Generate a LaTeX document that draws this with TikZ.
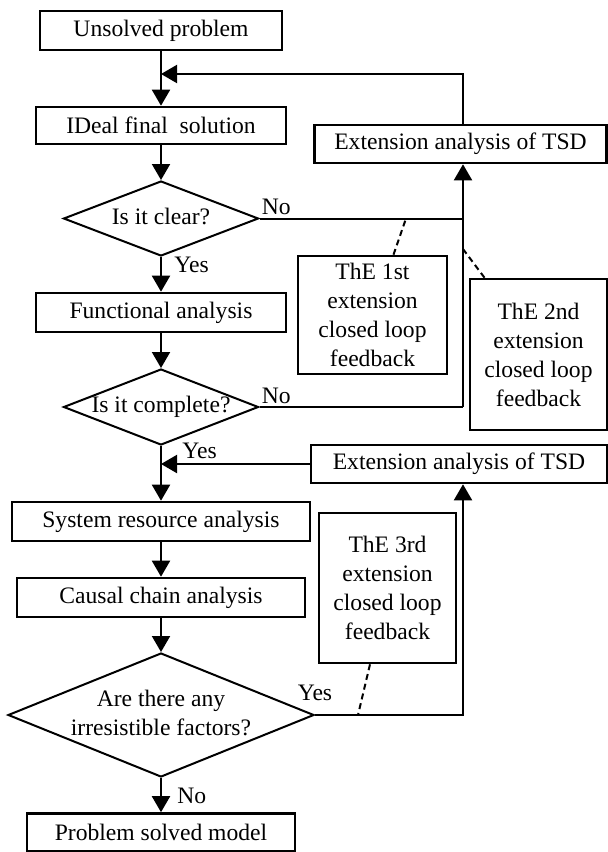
\documentclass[tikz,border=0pt]{standalone}
\usepackage{fontspec}
\setmainfont{Liberation Serif}
\usetikzlibrary{shapes.geometric,arrows.meta}

\newcommand\dtext[1]{\makebox[0pt]{\begin{tabular}{@{}c@{}}#1\end{tabular}}}

\begin{document}
\begin{tikzpicture}[
        x=0.5pt, y=-0.5pt,
        every node/.style={font=\fontsize{11.8}{14.5}\selectfont},
        box/.style={rectangle, draw, line width=1.3pt, inner sep=0pt, align=center},
        decision/.style={diamond, draw, line width=1pt, inner sep=0pt},
        arr/.style={line width=1pt, -{Triangle[length=8pt, width=9pt]}},
        link/.style={line width=1pt},
        note/.style={line width=1pt, dash pattern=on 3pt off 2pt},
        lbl/.style={inner sep=0pt}
      ]
      \useasboundingbox (0,0) rectangle (608,852);

      % main column
      \node[box, minimum width=121pt, minimum height=19.5pt] (b1) at (161,30.5) {Unsolved problem};
      \node[box, minimum width=125pt, minimum height=18.5pt] (b2) at (161,125.5) {IDeal final~ solution};
      \node[decision, minimum width=97.5pt, minimum height=37.5pt] (d1) at (161,218.5) {\dtext{Is it clear?}};
      \node[box, minimum width=125pt, minimum height=19.5pt] (b3) at (161,312.5) {Functional analysis};
      \node[decision, minimum width=97.5pt, minimum height=38pt] (d2) at (161,407) {\dtext{Is it complete?}};
      \node[box, minimum width=149pt, minimum height=19.5pt] (b4) at (161,521.5) {System resource analysis};
      \node[box, minimum width=144pt, minimum height=19.5pt] (b5) at (161,597.5) {Causal chain analysis};
      \node[decision, minimum width=153pt, minimum height=62pt] (d3) at (161,715) {\dtext{Are there any\\irresistible factors?}};
      \node[box, minimum width=134pt, minimum height=19pt] (b6) at (161,832.5) {Problem solved model};

      % feedback side
      \node[box, minimum width=146pt, minimum height=19pt] (e1) at (460.5,144) {Extension analysis of TSD};
      \node[box, minimum width=148pt, minimum height=19pt] (e2) at (459,464) {Extension analysis of TSD};
      \node[box, minimum width=74.5pt, minimum height=59pt] (t1) at (372.5,315) {ThE 1st\\extension\\closed loop\\feedback};
      \node[box, minimum width=68.5pt, minimum height=75.5pt] (t2) at (538.5,354.5) {ThE 2nd\\extension\\closed loop\\feedback};
      \node[box, minimum width=68.5pt, minimum height=75pt] (t3) at (387.5,588) {ThE 3rd\\extension\\closed loop\\feedback};

      \coordinate (lx) at (463,0);
      \coordinate (j1) at (161,74);
      \coordinate (n1) at (406,218.5);
      \coordinate (n2) at (463,249);
      \coordinate (n3) at (358,715);

      % flow
      \draw[arr] (b1) -- (b2);
      \draw[arr] (b2) -- (d1);
      \draw[arr] (d1) -- (b3);
      \draw[arr] (b3) -- (d2);
      \draw[arr] (d2) -- (b4);
      \draw[arr] (b4) -- (b5);
      \draw[arr] (b5) -- (d3);
      \draw[arr] (d3) -- (b6);

      % loops
      \draw[link] (d1.east) -- (d1.east -| lx);
      \draw[link] (d2.east) -- (d2.east -| lx);
      \draw[arr] (d2.east -| lx) -- (e1.south -| lx);
      \draw[arr] (e1.north -| lx) |- (j1);
      \draw[arr] (d3.east) -| (e2.south -| lx);
      \draw[arr] (e2.west) -- (e2.west -| b4);

      \draw[note] ([xshift=10.5pt]t1.north) -- (n1);
      \draw[note] ([xshift=-27pt]t2.north) -- (n2);
      \draw[note] ([xshift=-8.75pt]t3.south) -- (n3);

      % labels
      \node[lbl, anchor=south west] (no1) at ([xshift=1pt, yshift=1.5pt]d1.east) {No};
      \node[lbl, anchor=north west] (yes1) at ([xshift=6.5pt]d1.south) {Yes};
      \node[lbl, anchor=south west] (no2) at ([xshift=1pt, yshift=1.5pt]d2.east) {No};
      \node[lbl, anchor=north west] (yes2) at ([xshift=10.5pt, yshift=1.5pt]d2.south) {Yes};
      \node[lbl, anchor=south] (yes3) at ([yshift=7pt]d3.east) {Yes};
      \node[lbl, anchor=north west] (no3) at ([xshift=8pt, yshift=-5pt]d3.south) {No};
    \end{tikzpicture}
\end{document}
